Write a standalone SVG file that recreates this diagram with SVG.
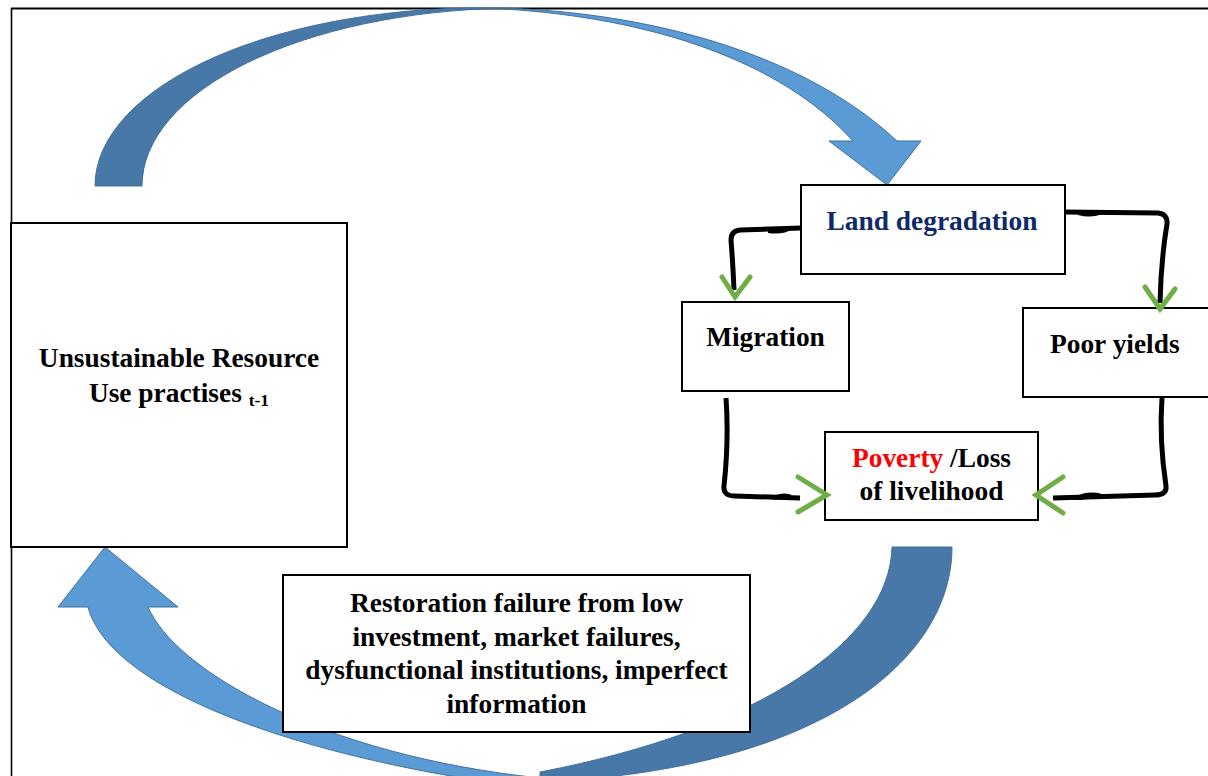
<svg xmlns="http://www.w3.org/2000/svg" width="1208" height="776" viewBox="0 0 1208 776">
<style>
.box{fill:#fff;stroke:#000;stroke-width:2}
.t{font-family:"Liberation Serif","Times New Roman",serif;font-weight:bold;font-size:27.4px;fill:#000}
.dark{fill:#4878a8;stroke:#41719c;stroke-width:1}
.light{fill:#5b9bd5;stroke:#41719c;stroke-width:1}
.conn{fill:none;stroke:#000;stroke-width:5;stroke-linejoin:round;stroke-linecap:butt}
.blob{fill:#000}
.chev{fill:none;stroke:#70ad47;stroke-width:5;stroke-linejoin:miter;stroke-linecap:round}
</style>
<rect x="0" y="0" width="1208" height="776" fill="#fff"/>
<g id="frame">
<line x1="11" y1="8.5" x2="1208" y2="8.5" stroke="#000" stroke-width="2"/>
<line x1="11.5" y1="8" x2="11.5" y2="776" stroke="#000" stroke-width="1.6"/>
</g>
<g id="top-arrow">
<path class="dark" d="M95,186 A387,178 0 0 1 504,8.2 A378,178 0 0 0 142,186 Z"/>
<path class="light" d="M504,8.2 C640,12 800,50 897,141 L921,141 L887,185 L829,141 L853,141 C780,60 650,18 504,9 Z"/>
</g>
<g id="bottom-arrow">
<path class="dark" d="M892,547 C890,640 760,730 540,772 L540,782 C820,770 952,660 952,547 Z"/>
<path class="light" d="M105,547 L178,607 L148,607 C175,670 320,755 540,778 L545,790 C300,760 110,690 88,607 L58,607 Z"/>
</g>
<g id="unsustainable">
<rect class="box" x="11" y="223" width="336" height="324"/>
<text class="t" x="179" y="367" text-anchor="middle">Unsustainable Resource</text>
<text class="t" x="179" y="402" text-anchor="middle">Use practises <tspan font-size="17.5px" dy="4">t-1</tspan></text>
</g>
<g id="land-degradation">
<rect class="box" x="801" y="185" width="264" height="89"/>
<text class="t" x="932" y="230" text-anchor="middle" style="fill:#102a68">Land degradation</text>
</g>
<g id="migration">
<rect class="box" x="682" y="302" width="167" height="89"/>
<text class="t" x="765.5" y="346" text-anchor="middle">Migration</text>
</g>
<g id="poor-yields">
<rect class="box" x="1023" y="308" width="190" height="89"/>
<text class="t" x="1050" y="353">Poor yields</text>
</g>
<g id="poverty">
<rect class="box" x="825" y="432" width="213" height="88"/>
<text class="t" x="931.5" y="467" text-anchor="middle"><tspan fill="#ff0000">Poverty</tspan> /Loss</text>
<text class="t" x="931.5" y="500" text-anchor="middle">of livelihood</text>
</g>
<g id="restoration">
<rect class="box" x="283" y="575" width="467" height="157"/>
<text class="t" x="516.5" y="612" text-anchor="middle">Restoration failure from low</text>
<text class="t" x="516.5" y="645.5" text-anchor="middle">investment, market failures,</text>
<text class="t" x="516.5" y="679" text-anchor="middle">dysfunctional institutions, imperfect</text>
<text class="t" x="516.5" y="712.5" text-anchor="middle">information</text>
</g>
<g id="connectors">
<path class="conn" d="M801,228 L740,230 Q731,231 731,240 Q733,265 734,290"/>
<path class="blob" d="M768,231 Q780,226 792,229 Q784,235 768,233 Z"/>
<path class="conn" d="M1064,212 L1158,213 Q1168,214 1167,224 Q1161,260 1160,303"/>
<path class="blob" d="M1078,212 Q1090,209 1104,213 Q1092,219 1078,215 Z"/>
<path class="conn" d="M726,398 Q729,440 724,486 Q723,496 735,496 L800,498"/>
<path class="blob" d="M770,497 Q784,491 792,495 Q784,501 770,499 Z"/>
<path class="conn" d="M1162,398 Q1159,440 1166,486 Q1167,495 1155,495 L1053,498"/>
<path class="blob" d="M1075,497 Q1088,490 1102,494 Q1090,500 1075,500 Z"/>
<path class="chev" d="M722,277 L735,297 L750,277"/>
<path class="chev" d="M1145,287 L1160,309 L1175,289"/>
<path class="chev" d="M798,477 L827,495 L798,512"/>
<path class="chev" d="M1063,477 L1036,495 L1063,513"/>
</g>
</svg>
